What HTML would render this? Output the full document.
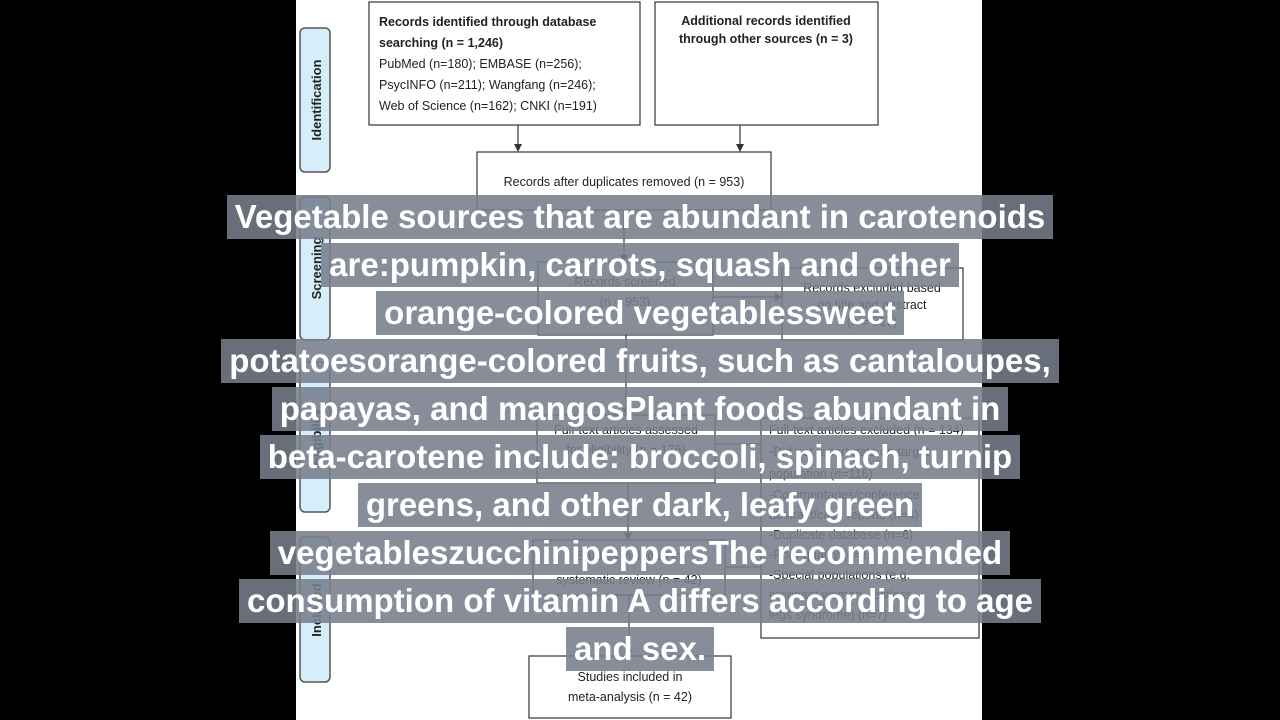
<!DOCTYPE html>
<html><head><meta charset="utf-8"><style>
body{margin:0;width:1280px;height:720px;background:#000;overflow:hidden;position:relative;font-family:"Liberation Sans",sans-serif}
svg{position:absolute;left:0;top:0}
.cap{position:absolute;left:0;width:1280px;text-align:center;height:48px;white-space:nowrap}
.cap span{display:inline-block;background:rgba(118,126,140,0.88);color:#fff;font-weight:bold;font-size:33px;letter-spacing:0;line-height:44px;padding:0 8px;height:44px;margin-top:2px}
</style></head><body>
<svg width="1280" height="720" viewBox="0 0 1280 720" font-family="Liberation Sans, sans-serif">
<rect x="296" y="0" width="686" height="720" fill="#fff"/>
<g fill="#d6eef9" stroke="#555" stroke-width="1.5">
<rect x="300" y="28" width="30" height="144" rx="5"/>
<rect x="300" y="197" width="30" height="143" rx="5"/>
<rect x="300" y="362" width="30" height="150" rx="5"/>
<rect x="300" y="537" width="30" height="145" rx="5"/>
</g>
<g font-size="13" font-weight="bold" fill="#222">
<text transform="translate(321,100) rotate(-90)" text-anchor="middle">Identification</text>
<text transform="translate(321,268) rotate(-90)" text-anchor="middle">Screening</text>
<text transform="translate(321,437) rotate(-90)" text-anchor="middle">Eligibility</text>
<text transform="translate(321,610) rotate(-90)" text-anchor="middle">Included</text>
</g>
<g fill="none" stroke="#333" stroke-width="1.2">
<rect x="369" y="2" width="271" height="123"/>
<rect x="655" y="2" width="223" height="123"/>
<rect x="477" y="152" width="294" height="58"/>
<rect x="538" y="262" width="175" height="73"/>
<rect x="782" y="268" width="181" height="72"/>
<rect x="537" y="415" width="178" height="68"/>
<rect x="761" y="418" width="218" height="220"/>
<rect x="533" y="540" width="192" height="55"/>
<rect x="529" y="656" width="202" height="62"/>
<path d="M518 125V146M740 125V146M624 210V256M713 297H776M626 335V409M715 444H761M628 483V534M725 567H761M629 595V650"/>
</g>
<g fill="#333">
<path d="M514 144L522 144L518 152ZM736 144L744 144L740 152ZM620 255L628 255L624 262ZM775 293L775 301L782 297ZM622 408L630 408L626 415ZM624 533L632 533L628 540ZM625 649L633 649L629 656Z"/>
</g>
<g font-size="12.5" fill="#222">
<text x="379" y="26" font-weight="bold">Records identified through database</text>
<text x="379" y="47" font-weight="bold">searching (n = 1,246)</text>
<text x="379" y="68">PubMed (n=180); EMBASE (n=256);</text>
<text x="379" y="89">PsycINFO (n=211); Wangfang (n=246);</text>
<text x="379" y="110">Web of Science (n=162); CNKI (n=191)</text>
<text x="766" y="25" font-weight="bold" text-anchor="middle">Additional records identified</text>
<text x="766" y="43" font-weight="bold" text-anchor="middle">through other sources (n = 3)</text>
<text x="624" y="186" text-anchor="middle">Records after duplicates removed (n = 953)</text>
<text x="625" y="286" text-anchor="middle">Records screened</text>
<text x="625" y="306" text-anchor="middle">(n = 953)</text>
<text x="872" y="292" text-anchor="middle">Records excluded based</text>
<text x="872" y="309" text-anchor="middle">on title and abstract</text>
<text x="872" y="326" text-anchor="middle">(n = 817)</text>
<text x="626" y="434" text-anchor="middle">Full-text articles assessed</text>
<text x="626" y="454" text-anchor="middle">for eligibility (n = 176)</text>
<text x="769" y="434">Full-text articles excluded (n = 134)</text>
<text x="769" y="456">-Did not report data on target</text>
<text x="769" y="478">population (n=116)</text>
<text x="769" y="499">-Commentaries/conference</text>
<text x="769" y="519">abstract/case reports (n=4)</text>
<text x="769" y="539">-Duplicate database (n=6)</text>
<text x="769" y="559">-Poor quality (n=1)</text>
<text x="769" y="579">-Special populations (e.g.</text>
<text x="769" y="599">pregnant women, restless</text>
<text x="769" y="619">legs syndrome) (n=7)</text>
<text x="629" y="560" text-anchor="middle">Studies included in</text>
<text x="629" y="584" text-anchor="middle">systematic review (n = 42)</text>
<text x="630" y="681" text-anchor="middle">Studies included in</text>
<text x="630" y="701" text-anchor="middle">meta-analysis (n = 42)</text>
</g>
</svg>
<div class="cap" style="top:193px"><span>Vegetable sources that are abundant in carotenoids</span></div>
<div class="cap" style="top:241px"><span>are:pumpkin, carrots, squash and other</span></div>
<div class="cap" style="top:289px"><span>orange-colored vegetablessweet</span></div>
<div class="cap" style="top:337px"><span>potatoesorange-colored fruits, such as cantaloupes,</span></div>
<div class="cap" style="top:385px"><span>papayas, and mangosPlant foods abundant in</span></div>
<div class="cap" style="top:433px"><span>beta-carotene include: broccoli, spinach, turnip</span></div>
<div class="cap" style="top:481px"><span>greens, and other dark, leafy green</span></div>
<div class="cap" style="top:529px"><span>vegetableszucchinipeppersThe recommended</span></div>
<div class="cap" style="top:577px"><span>consumption of vitamin A differs according to age</span></div>
<div class="cap" style="top:625px"><span>and sex.</span></div>
</body></html>
